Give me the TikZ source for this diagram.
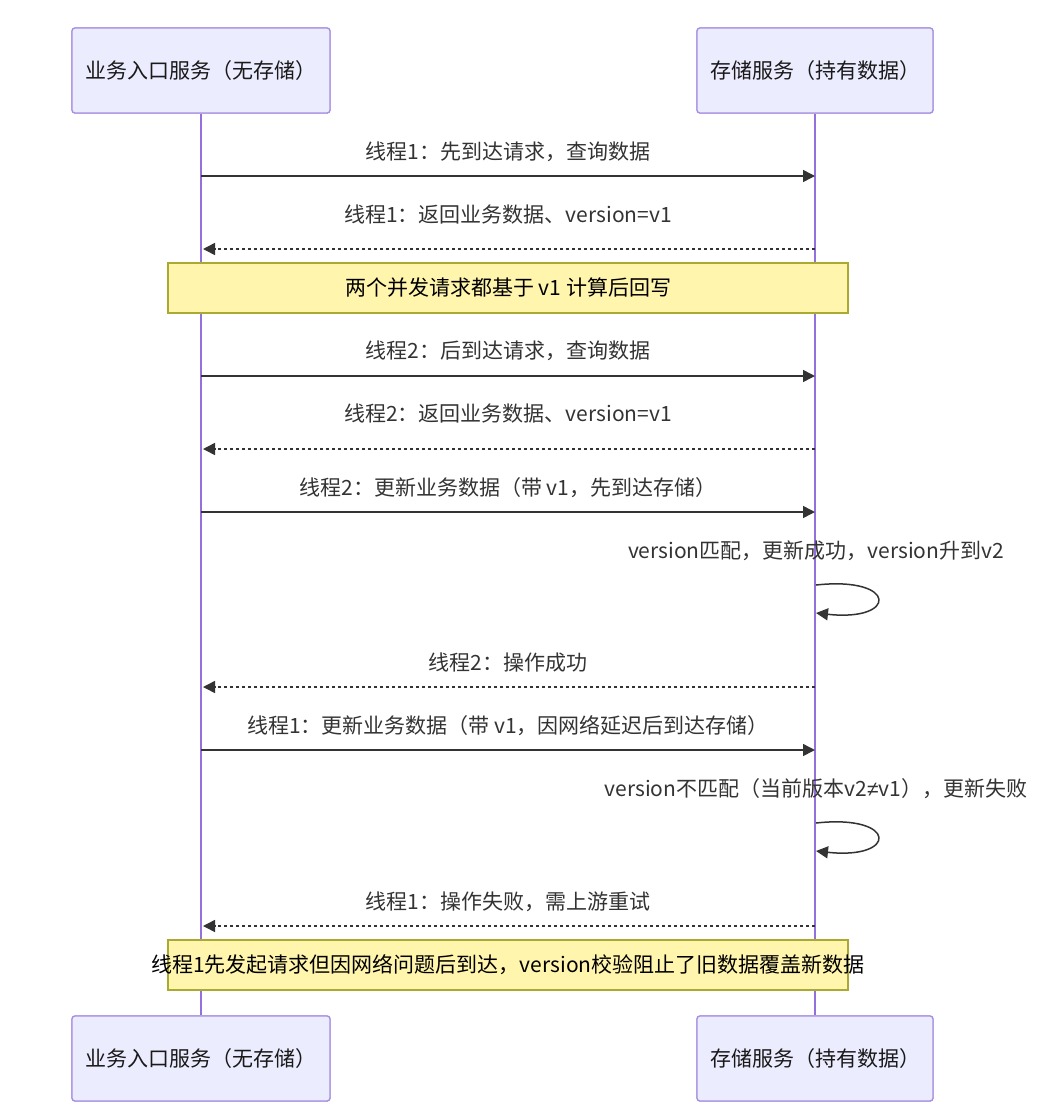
\documentclass[tikz,border=0pt]{standalone}
\usepackage{fontspec}
\setmainfont{Noto Sans CJK SC}
\newfontfamily\symfont{Liberation Sans}
\usetikzlibrary{arrows.meta}
\definecolor{actfill}{HTML}{ECECFF}
\definecolor{actborder}{HTML}{A891E2}
\definecolor{lifeline}{HTML}{9370DB}
\definecolor{notefill}{HTML}{FFF5AD}
\definecolor{noteborder}{HTML}{AAAA33}
\definecolor{msgcol}{HTML}{333333}
\begin{document}
\begin{tikzpicture}[x=1pt,y=-1pt,
  actorbox/.style={draw=actborder, fill=actfill, line width=1.3pt, rounded corners=3pt, minimum height=85pt, inner sep=0pt, text=black!90, font=\fontsize{21}{25}\selectfont},
  notebox/.style={draw=noteborder, fill=notefill, line width=1.1pt, minimum width=680pt, minimum height=50pt, inner sep=0pt, text=black, font=\fontsize{21}{25}\selectfont},
  notetext/.style={inner sep=0pt, text=black, font=\fontsize{21}{25}\selectfont},
  lbl/.style={text=msgcol, inner sep=0pt, font=\fontsize{21}{25}\selectfont},
  msg/.style={draw=msgcol, line width=1.5pt, -{Triangle[length=12pt,width=12pt]}},
  reply/.style={msg, dash pattern=on 3pt off 3pt},
  life/.style={draw=lifeline, line width=2.6pt}]
\useasboundingbox (0,0) rectangle (1062,1120);
% actor boxes
\node[actorbox, minimum width=258pt] (aTop) at (201,70.5) {};
\node[actorbox, minimum width=236pt] (bTop) at (815,70.5) {};
\node[actorbox, minimum width=258pt] (aBot) at (201,1058.5) {};
\node[actorbox, minimum width=236pt] (bBot) at (815,1058.5) {};
% lifelines
\draw[life] (aTop.south) -- (aBot.north);
\draw[life] (bTop.south) -- (bBot.north);
% coordinates on lifelines
\coordinate (a1) at (201,176); \coordinate (b1) at (815,176);
\coordinate (a2) at (203,249); \coordinate (b2) at (815,249);
\coordinate (a3) at (201,376); \coordinate (b3) at (815,376);
\coordinate (a4) at (203,449); \coordinate (b4) at (815,449);
\coordinate (a5) at (201,512); \coordinate (b5) at (815,512);
\coordinate (s1) at (816,585); \coordinate (s2) at (816,613);
\coordinate (a6) at (203,687); \coordinate (b6) at (815,687);
\coordinate (a7) at (201,750); \coordinate (b7) at (815,750);
\coordinate (s3) at (816,823); \coordinate (s4) at (816,851);
\coordinate (a8) at (203,926); \coordinate (b8) at (815,926);
% messages
\node[lbl] (l1) at (508,152) {线程1：先到达请求，查询数据};
\draw[msg] (a1) -- (b1);
\node[lbl] (l2) at (508,215) {线程1：返回业务数据、version=v1};
\draw[reply] (b2) -- (a2);
\node[notebox] (n1) at (508,288) {两个并发请求都基于 v1 计算后回写};
\node[lbl] (l3) at (508,351) {线程2：后到达请求，查询数据};
\draw[msg] (a3) -- (b3);
\node[lbl] (l4) at (508,414) {线程2：返回业务数据、version=v1};
\draw[reply] (b4) -- (a4);
\node[lbl] (l5) at (508,488) {线程2：更新业务数据（带 v1，先到达存储）};
\draw[msg] (a5) -- (b5);
\node[lbl] (l6) at (816,551) {version匹配，更新成功，version升到v2};
\draw[msg] (s1) .. controls +(82,-9) and +(82,9) .. (s2);
\node[lbl] (l7) at (508,663) {线程2：操作成功};
\draw[reply] (b6) -- (a6);
\node[lbl] (l8) at (508,726) {线程1：更新业务数据（带 v1，因网络延迟后到达存储）};
\draw[msg] (a7) -- (b7);
\node[lbl] (l9) at (816,789) {version不匹配（当前版本v2{\symfont ≠}v1），更新失败};
\draw[msg] (s3) .. controls +(82,-9) and +(82,9) .. (s4);
\node[lbl] (l10) at (508,902) {线程1：操作失败，需上游重试};
\draw[reply] (b8) -- (a8);
\node[notebox] (n2) at (508,965) {};
\node[notetext] (n2t) at (n2) {线程1先发起请求但因网络问题后到达，version校验阻止了旧数据覆盖新数据};
% actor box texts
\node[actorbox, minimum width=258pt] at (aTop) {业务入口服务（无存储）};
\node[actorbox, minimum width=236pt] at (bTop) {存储服务（持有数据）};
\node[actorbox, minimum width=258pt] at (aBot) {业务入口服务（无存储）};
\node[actorbox, minimum width=236pt] at (bBot) {存储服务（持有数据）};
\end{tikzpicture}
\end{document}
